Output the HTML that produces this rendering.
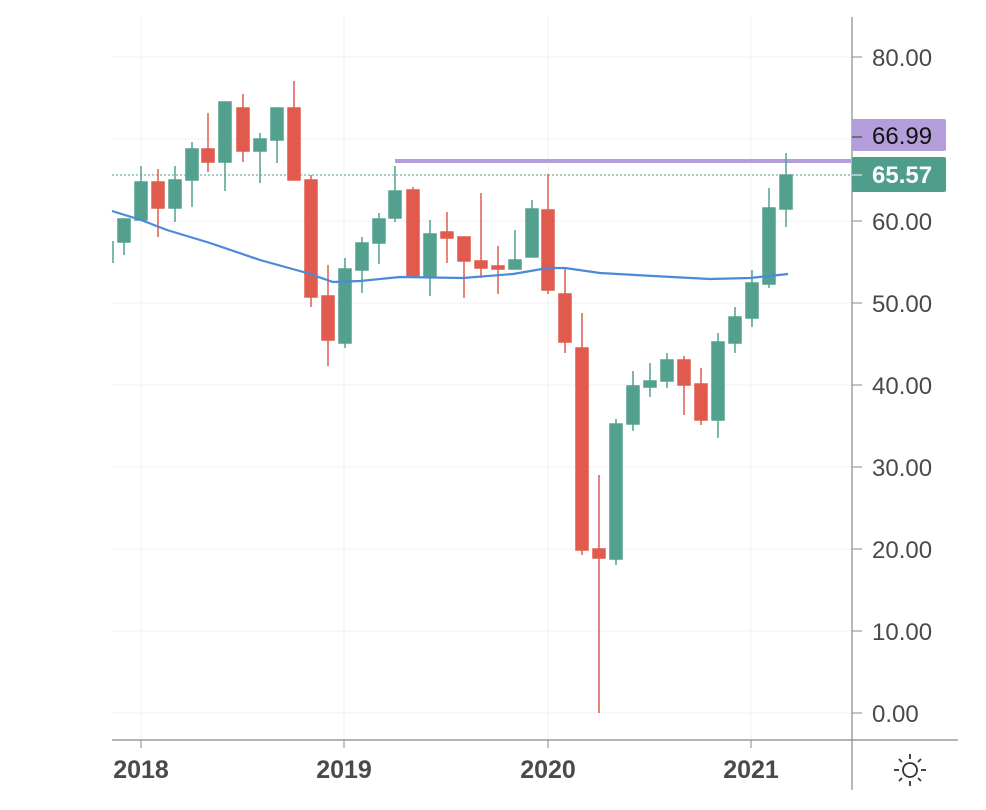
<!DOCTYPE html>
<html><head><meta charset="utf-8"><style>
html,body{margin:0;padding:0;background:#fff;}
svg{display:block;font-family:"Liberation Sans","DejaVu Sans",sans-serif;}
</style></head><body>
<svg width="986" height="810" viewBox="0 0 986 810" xmlns="http://www.w3.org/2000/svg">
<rect width="986" height="810" fill="#fff"/>
<g stroke="#f1f1f1" stroke-width="1">
<line x1="112" y1="57" x2="851" y2="57"/><line x1="112" y1="139" x2="851" y2="139"/>
<line x1="112" y1="221" x2="851" y2="221"/><line x1="112" y1="303" x2="851" y2="303"/>
<line x1="112" y1="385" x2="851" y2="385"/><line x1="112" y1="467" x2="851" y2="467"/>
<line x1="112" y1="549" x2="851" y2="549"/><line x1="112" y1="631" x2="851" y2="631"/>
<line x1="112" y1="713" x2="851" y2="713"/>
<line x1="141" y1="17" x2="141" y2="740"/><line x1="344" y1="17" x2="344" y2="740"/>
<line x1="548" y1="17" x2="548" y2="740"/><line x1="751" y1="17" x2="751" y2="740"/>
</g>
<line x1="112" y1="175" x2="851" y2="175" stroke="#53a08e" stroke-width="1" stroke-dasharray="2,2"/>
<line x1="395" y1="161" x2="851" y2="161" stroke="#b39ddb" stroke-width="4"/>
<line x1="113" y1="241" x2="113" y2="263" stroke="#53a08e" stroke-width="1.5"/>
<g fill="#53a08e" stroke="#53a08e" stroke-width="1.5">
<line x1="124" y1="219" x2="124" y2="255"/><rect x="118" y="219" width="12" height="23"/>
<line x1="141" y1="166" x2="141" y2="220"/><rect x="135" y="182" width="12" height="38"/>
<line x1="175" y1="166" x2="175" y2="222"/><rect x="169" y="180" width="12" height="28"/>
<line x1="192" y1="142" x2="192" y2="207"/><rect x="186" y="149" width="12" height="31"/>
<line x1="225" y1="102" x2="225" y2="191"/><rect x="219" y="102" width="12" height="60"/>
<line x1="260" y1="133" x2="260" y2="183"/><rect x="254" y="139" width="12" height="12"/>
<line x1="277" y1="108" x2="277" y2="163"/><rect x="271" y="108" width="12" height="32"/>
<line x1="345" y1="258" x2="345" y2="348"/><rect x="339" y="269" width="12" height="74"/>
<line x1="362" y1="237" x2="362" y2="293"/><rect x="356" y="243" width="12" height="27"/>
<line x1="379" y1="213" x2="379" y2="264"/><rect x="373" y="219" width="12" height="24"/>
<line x1="395" y1="166" x2="395" y2="222"/><rect x="389" y="191" width="12" height="27"/>
<line x1="430" y1="220" x2="430" y2="296"/><rect x="424" y="234" width="12" height="42"/>
<line x1="515" y1="230" x2="515" y2="269"/><rect x="509" y="260" width="12" height="9"/>
<line x1="532" y1="200" x2="532" y2="257"/><rect x="526" y="209" width="12" height="48"/>
<line x1="616" y1="419" x2="616" y2="565"/><rect x="610" y="424" width="12" height="135"/>
<line x1="633" y1="371" x2="633" y2="431"/><rect x="627" y="386" width="12" height="38"/>
<line x1="650" y1="363" x2="650" y2="397"/><rect x="644" y="381" width="12" height="6"/>
<line x1="667" y1="353" x2="667" y2="388"/><rect x="661" y="360" width="12" height="21"/>
<line x1="718" y1="333" x2="718" y2="438"/><rect x="712" y="342" width="12" height="78"/>
<line x1="735" y1="307" x2="735" y2="353"/><rect x="729" y="317" width="12" height="26"/>
<line x1="752" y1="270" x2="752" y2="327"/><rect x="746" y="283" width="12" height="35"/>
<line x1="769" y1="188" x2="769" y2="288"/><rect x="763" y="208" width="12" height="76"/>
<line x1="786" y1="153" x2="786" y2="227"/><rect x="780" y="175" width="12" height="34"/>
</g>
<g fill="#e05a4e" stroke="#e05a4e" stroke-width="1.5">
<line x1="158" y1="169" x2="158" y2="237"/><rect x="152" y="182" width="12" height="26"/>
<line x1="208" y1="113" x2="208" y2="172"/><rect x="202" y="149" width="12" height="13"/>
<line x1="243" y1="94" x2="243" y2="162"/><rect x="237" y="108" width="12" height="43"/>
<line x1="294" y1="81" x2="294" y2="180"/><rect x="288" y="108" width="12" height="72"/>
<line x1="311" y1="175" x2="311" y2="307"/><rect x="305" y="180" width="12" height="117"/>
<line x1="328" y1="265" x2="328" y2="366"/><rect x="322" y="296" width="12" height="44"/>
<line x1="413" y1="187" x2="413" y2="277"/><rect x="407" y="190" width="12" height="87"/>
<line x1="447" y1="212" x2="447" y2="263"/><rect x="441" y="232" width="12" height="6"/>
<line x1="464" y1="237" x2="464" y2="298"/><rect x="458" y="237" width="12" height="24"/>
<line x1="481" y1="193" x2="481" y2="278"/><rect x="475" y="261" width="12" height="7"/>
<line x1="498" y1="246" x2="498" y2="294"/><rect x="492" y="266" width="12" height="3"/>
<line x1="548" y1="174" x2="548" y2="294"/><rect x="542" y="210" width="12" height="80"/>
<line x1="565" y1="267" x2="565" y2="353"/><rect x="559" y="294" width="12" height="48"/>
<line x1="582" y1="313" x2="582" y2="555"/><rect x="576" y="348" width="12" height="202"/>
<line x1="599" y1="475" x2="599" y2="713"/><rect x="593" y="549" width="12" height="9"/>
<line x1="684" y1="356" x2="684" y2="415"/><rect x="678" y="360" width="12" height="25"/>
<line x1="701" y1="368" x2="701" y2="425"/><rect x="695" y="384" width="12" height="36"/>
</g>
<polyline fill="none" stroke="#4a8ad8" stroke-width="2.2" points="112,211 141,220 167,230 210,243 260,260 307,273 333,282 360,281 400,277 463,278 513,274 548,268 565,268 600,273 653,276 710,279 750,278 788,274"/>
<line x1="852" y1="17" x2="852" y2="790" stroke="#888" stroke-width="1.2"/>
<line x1="112" y1="740" x2="958" y2="740" stroke="#888" stroke-width="1.2"/>
<g stroke="#888"><line x1="852" y1="57" x2="862" y2="57"/><line x1="852" y1="221" x2="862" y2="221"/><line x1="852" y1="303" x2="862" y2="303"/><line x1="852" y1="385" x2="862" y2="385"/><line x1="852" y1="467" x2="862" y2="467"/><line x1="852" y1="549" x2="862" y2="549"/><line x1="852" y1="631" x2="862" y2="631"/><line x1="852" y1="713" x2="862" y2="713"/>
<line x1="141" y1="740" x2="141" y2="748"/><line x1="344" y1="740" x2="344" y2="748"/><line x1="548" y1="740" x2="548" y2="748"/><line x1="751" y1="740" x2="751" y2="748"/></g>
<g fill="#4a4a4a" font-size="24">
<text x="872" y="66">80.00</text><text x="872" y="230">60.00</text><text x="872" y="312">50.00</text><text x="872" y="394">40.00</text><text x="872" y="476">30.00</text><text x="872" y="558">20.00</text><text x="872" y="640">10.00</text><text x="872" y="722">0.00</text>
</g>
<rect x="852" y="119" width="94" height="32" rx="2" fill="#b39ddb"/>
<line x1="852" y1="137" x2="862" y2="137" stroke="#333"/>
<text x="872" y="144" font-size="24" fill="#111">66.99</text>
<rect x="852" y="157" width="94" height="35" rx="2" fill="#4f9e8c"/>
<line x1="852" y1="175" x2="862" y2="175" stroke="#fff"/>
<text x="872" y="183" font-size="24" font-weight="bold" fill="#fff">65.57</text>
<g fill="#4a4a4a" font-size="25" font-weight="bold" text-anchor="middle">
<text x="141" y="778">2018</text><text x="344" y="778">2019</text><text x="548" y="778">2020</text><text x="751" y="778">2021</text>
</g>
<g stroke="#333" stroke-width="1.8" fill="none">
<circle cx="910" cy="770" r="7"/>
<line x1="910" y1="754" x2="910" y2="759"/><line x1="910" y1="781" x2="910" y2="786"/>
<line x1="894" y1="770" x2="899" y2="770"/><line x1="921" y1="770" x2="926" y2="770"/>
<line x1="899" y1="759" x2="902" y2="762"/><line x1="918" y1="778" x2="921" y2="781"/>
<line x1="921" y1="759" x2="918" y2="762"/><line x1="902" y1="778" x2="899" y2="781"/>
</g>
</svg>
</body></html>
